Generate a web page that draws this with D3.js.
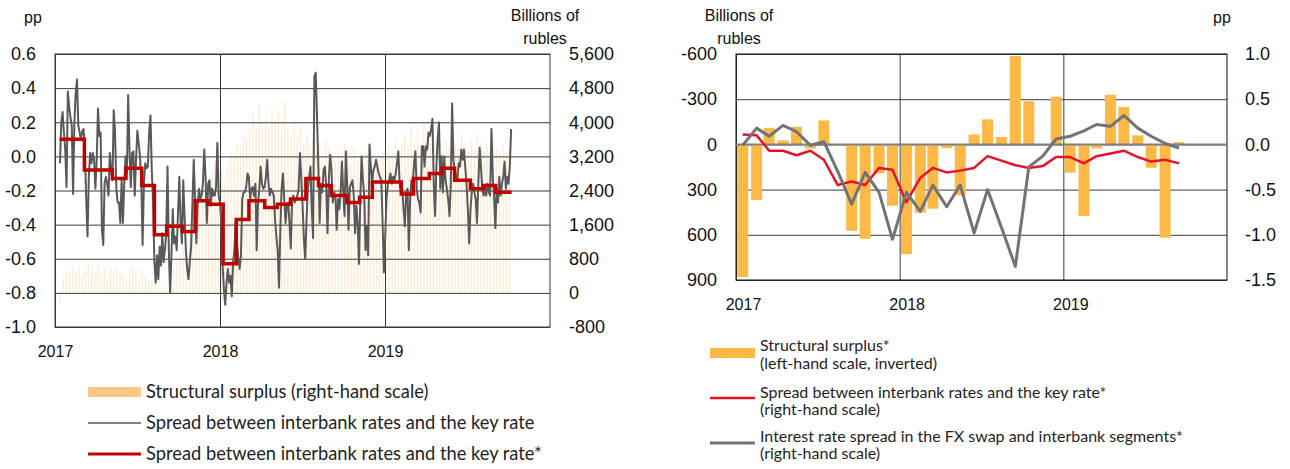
<!DOCTYPE html>
<html>
<head>
<meta charset="utf-8">
<script src="https://cdn.jsdelivr.net/npm/d3@7"></script>
<style>
  body { margin: 0; background: #fff; }
  svg { display: block; }
  .tick text { font-family: "Liberation Sans", Arial, sans-serif; font-size: 18px; fill: #111; }
  .year .tick text { font-size: 16px; }
  .unit { font-family: "Liberation Sans", Arial, sans-serif; font-size: 16px; fill: #111; }
  .legend { font-family: Lato, "Open Sans", sans-serif; fill: #1e1e1e; }
</style>
</head>
<body>
<svg id="chart" width="1290" height="469"></svg>
<script>
// ---- Left chart data ----
// Spread between interbank rates and the key rate, pp (read roughly every 3 days)
const spreadStart = "2017-01-12", spreadEnd = "2019-10-07";
const spreadDaily = [
  -0.04, 0.20, 0.26, 0.14, 0.04, -0.18, 0.38, 0.29, 0.23, 0.18,
  -0.22, 0.20, 0.37, 0.45, 0.18, 0.14, 0.10, 0.15, 0.16, 0.04,
  -0.25, -0.47, -0.12, 0.02, -0.04, 0.02, -0.02, -0.19, -0.02, 0.28,
  0.12, 0.14, -0.43, -0.52, -0.16, -0.12, -0.16, -0.23, 0.02, -0.08,
  -0.14, 0.27, 0.14, -0.19, -0.27, -0.27, -0.39, -0.14, -0.39, -0.16,
  0.00, -0.10, 0.36, 0.04, -0.18, 0.02, 0.03, -0.23, -0.02, 0.15,
  0.08, 0.00, -0.14, -0.52, -0.16, -0.04, -0.07, -0.06, 0.14, 0.24,
  -0.08, -0.27, -0.62, -0.74, -0.58, -0.72, -0.53, -0.64, -0.45, -0.62,
  -0.55, -0.45, -0.06, -0.55, -0.80, -0.58, -0.31, -0.51, -0.47, -0.55,
  -0.33, -0.12, -0.39, -0.51, -0.14, -0.35, -0.55, -0.66, -0.72, -0.62,
  -0.53, -0.27, -0.02, -0.25, -0.51, -0.29, -0.19, -0.25, -0.23, -0.16,
  0.04, -0.12, -0.39, -0.16, -0.14, -0.29, -0.19, -0.23, -0.23, -0.18,
  0.08, -0.23, -0.27, -0.39, -0.64, -0.78, -0.87, -0.74, -0.66, -0.74,
  -0.70, -0.82, -0.62, -0.55, -0.38, -0.51, -0.60, -0.66, -0.58, -0.25,
  -0.21, -0.21, -0.18, -0.10, -0.12, -0.25, -0.19, -0.18, -0.23, -0.16,
  -0.55, -0.27, -0.19, -0.06, -0.16, -0.19, -0.18, -0.12, -0.02, -0.16,
  -0.23, -0.19, -0.21, -0.23, -0.37, -0.47, -0.55, -0.77,
  -0.43, -0.19, -0.10, -0.25, -0.39, -0.29, -0.27, -0.39, -0.54, -0.25,
  -0.23, -0.27, -0.25, -0.23, -0.19, 0.02, -0.12, -0.29, -0.49, -0.60,
  -0.37, -0.19, -0.12, -0.06, -0.31, -0.48, 0.47, 0.49, 0.23, -0.06,
  -0.39, -0.16, -0.21, -0.08, -0.06, -0.18, -0.45, -0.14, 0.01, -0.08,
  -0.27, -0.21, -0.23, -0.43, -0.25, -0.31, -0.21, -0.03, -0.21, -0.35,
  0.03, -0.16, -0.43, -0.18, -0.16, -0.14, -0.23, -0.45, -0.29, -0.39,
  -0.63, -0.25, 0.00, -0.14, -0.23, -0.55, -0.41, -0.58, 0.07, -0.06,
  -0.16, -0.08, -0.06, -0.02, -0.06, -0.10, -0.12, -0.14, -0.39, -0.68,
  -0.47, -0.25, -0.16, -0.14, -0.10, -0.16, -0.12, -0.14, -0.10, -0.04,
  0.03, -0.16, -0.21, -0.19, -0.31, -0.41, -0.21, -0.19, -0.55, -0.25,
  -0.14, -0.16, -0.04, 0.03, -0.19, -0.25, -0.27, -0.33, 0.06, 0.06,
  -0.06, 0.06, 0.04, 0.14, 0.12, 0.16, 0.22, -0.16, -0.35, -0.06,
  0.10, 0.20, -0.19, 0.00, -0.21, 0.00, -0.14, -0.19, -0.25, -0.35,
  -0.16, 0.31, -0.02, -0.08, -0.12, -0.14, -0.04, -0.06, 0.04, -0.02,
  0.04, -0.06, -0.16, -0.31, -0.51, -0.31, -0.21, -0.16, -0.21, -0.25,
  -0.39, -0.16, 0.05, -0.06, -0.19, -0.23, -0.18, -0.23, -0.16, -0.21,
  -0.23, 0.16, -0.12, -0.23, -0.42, -0.19, -0.27, -0.12, -0.23, -0.16,
  -0.12, -0.03, -0.19, -0.12, -0.16, -0.06, 0.16
];

// Spread averaged over reserve maintenance periods (start dates), pp
const periodStarts = [
  "2017-01-11", "2017-03-07", "2017-05-08", "2017-06-07", "2017-07-12", "2017-08-09",
  "2017-09-05", "2017-10-10", "2017-11-07", "2017-12-06", "2018-01-08", "2018-02-06",
  "2018-03-06", "2018-04-10", "2018-05-08", "2018-06-06", "2018-07-10", "2018-08-07",
  "2018-09-04", "2018-10-09", "2018-11-06", "2018-12-04", "2019-02-06", "2019-03-05",
  "2019-04-09", "2019-05-07", "2019-06-04", "2019-07-09", "2019-08-06", "2019-09-03"
];
const periodSpread = [
  0.10, -0.08, -0.13, -0.07, -0.17, -0.46, -0.41, -0.44, -0.26, -0.28, -0.63, -0.37,
  -0.26, -0.30, -0.28, -0.25, -0.13, -0.17, -0.23, -0.27, -0.24, -0.15, -0.22, -0.13,
  -0.10, -0.07, -0.14, -0.19, -0.17, -0.21
];
const periodEnd = "2019-10-08";

// Structural surplus, billions of rubles (weekly readings)
const surplusStart = "2017-01-12";
const surplusWeekly = [
  -250, 350, 550, 450, 600, 500, 650, 400, 550, 700, 600, 450, 650,
  500, 600, 350, 550, 450, 600, 500, 400, 350, 500, 600, 450, 300,
  550, 400, 300, 250, 200, 100, 50, 150, 80, 300, 600, 750, 900,
  1100, 1300, 1500, 1700, 1800, 2000, 2200, 2400, 2600, 2800, 3100, 3500, 2900,
  2600, 3000, 3300, 3200, 3500, 3400, 3700, 3600, 3800, 4200, 3900, 4400, 4000,
  4100, 3900, 4300, 4000, 4200, 3800, 4500, 3900, 3700, 4000, 3600, 3900, 3500,
  3700, 3400, 3600, 3300, 3500, 3200, 3600, 3400, 3300, 3100, 3400, 3200, 3500,
  3300, 3000, 3400, 3100, 3200, 3000, 3300, 3100, 2900, 3200, 3000, 3300, 3100,
  3400, 3200, 3600, 3300, 3500, 3700, 3400, 3900, 3600, 3800, 3500, 4000, 3700,
  3500, 3800, 3400, 3600, 3300, 3600, 3400, 3700, 3500, 3400, 3700, 3500, 3300,
  3600, 3400, 3700, 3500, 3300, 3500, 3300, 3600, 3400, 3300, 3500, 3200, 3400
];

const ppTicksLeft = [-1.0, -0.8, -0.6, -0.4, -0.2, 0.0, 0.2, 0.4, 0.6];
const bnTicksLeft = [-800, 0, 800, 1600, 2400, 3200, 4000, 4800, 5600];

// ---- Right chart data (monthly, Jan 2017 - Sep 2019) ----
const monthStart = "2017-01-01", monthCount = 33;
const surplusMonthly = [
  880, 370, -110, -27, -117, 27, -159, 8, 573, 626, 192, 407,
  728, 453, 427, 25, 338, -66, -166, -49, -586, -287, 0, -316,
  188, 476, 27, -330, -248, -60, 155, 619, -15
];
const spreadMonthly = [
  0.11, 0.10, -0.07, -0.07, -0.12, -0.07, -0.17, -0.45, -0.41, -0.45, -0.26, -0.28,
  -0.64, -0.37, -0.26, -0.31, -0.29, -0.26, -0.13, -0.18, -0.23, -0.26, -0.24, -0.14,
  -0.14, -0.21, -0.13, -0.10, -0.07, -0.14, -0.19, -0.17, -0.21
];
const fxSwapSpread = [
  -0.01, 0.18, 0.09, 0.21, 0.14, -0.01, 0.03, -0.30, -0.66, -0.31, -0.53, -1.05,
  -0.53, -0.74, -0.45, -0.69, -0.45, -0.98, -0.50, -0.92, -1.35, -0.25, -0.13, 0.06,
  0.09, 0.15, 0.22, 0.20, 0.32, 0.18, 0.09, 0.01, -0.04
];
const bnTicksRight = [-600, -300, 0, 300, 600, 900];
const ppTicksRight = [-1.5, -1.0, -0.5, 0.0, 0.5, 1.0];

const years = [2017, 2018, 2019];

// ---- Setup ----
const svg = d3.select("#chart");
const parse = d3.timeParse("%Y-%m-%d");
const xDomain = [new Date(2017, 0, 1), new Date(2020, 0, 1)];
const yearDates = years.map(y => new Date(y, 0, 1));
const dash = s => s.replace("\u2212", "-");
const gridColor = "#3a3a3a";

// ================= LEFT CHART =================
const L = { left: 55, right: 550, top: 54, bottom: 327 };
const xL = d3.scaleTime().domain(xDomain).range([L.left, L.right]);
const yPP = d3.scaleLinear().domain([-1, 0.6]).range([L.bottom, L.top]);
const yBn = d3.scaleLinear().domain([-800, 5600]).range([L.bottom, L.top]);

const gL = svg.append("g");

// Structural surplus, thin faint bars
const s0 = parse(surplusStart);
gL.append("g").selectAll("rect")
  .data(surplusWeekly)
  .join("rect")
  .attr("x", (d, i) => xL(d3.timeDay.offset(s0, i * 7)) - 0.7)
  .attr("width", 1.4)
  .attr("y", d => Math.min(yBn(0), yBn(d)))
  .attr("height", d => Math.abs(yBn(d) - yBn(0)))
  .attr("fill", "#fbd3a0")
  .attr("opacity", 0.45);

// Horizontal grid
gL.append("g")
  .attr("transform", `translate(${L.left},0)`)
  .call(d3.axisLeft(yPP).tickValues(ppTicksLeft).tickSize(-(L.right - L.left)).tickFormat(""))
  .call(g => g.select(".domain").remove())
  .call(g => g.selectAll("line").attr("stroke", gridColor));

// Vertical year lines
gL.append("g")
  .attr("transform", `translate(0,${L.bottom})`)
  .call(d3.axisBottom(xL).tickValues(yearDates).tickSize(-(L.bottom - L.top)).tickFormat(""))
  .call(g => g.select(".domain").remove())
  .call(g => g.selectAll("line").attr("stroke", gridColor));

gL.append("rect")
  .attr("x", L.left).attr("y", L.top)
  .attr("width", L.right - L.left).attr("height", L.bottom - L.top)
  .attr("fill", "none").attr("stroke", gridColor);

// Daily spread
const idxDate = d3.scaleLinear()
  .domain([0, spreadDaily.length - 1])
  .range([parse(spreadStart), parse(spreadEnd)]);
gL.append("path")
  .datum(spreadDaily)
  .attr("fill", "none")
  .attr("stroke", "#595959")
  .attr("stroke-width", 2)
  .attr("stroke-linejoin", "round")
  .attr("d", d3.line().x((d, i) => xL(idxDate(i))).y(d => yPP(d)));

// Period-average spread as steps
const steps = periodStarts.map((s, i) => ({ date: parse(s), v: periodSpread[i] }));
steps.push({ date: parse(periodEnd), v: periodSpread[periodSpread.length - 1] });
gL.append("path")
  .datum(steps)
  .attr("fill", "none")
  .attr("stroke", "#c00000")
  .attr("stroke-width", 3.5)
  .attr("d", d3.line().curve(d3.curveStepAfter).x(d => xL(d.date)).y(d => yPP(d.v)));

// Axes labels
gL.append("g")
  .attr("transform", `translate(${L.left},0)`)
  .call(d3.axisLeft(yPP).tickValues(ppTicksLeft).tickSize(0).tickPadding(19).tickFormat(d => d.toFixed(1)))
  .call(g => g.select(".domain").remove());
gL.append("g")
  .attr("transform", `translate(${L.right},0)`)
  .call(d3.axisRight(yBn).tickValues(bnTicksLeft).tickSize(0).tickPadding(19).tickFormat(d => dash(d3.format(",")(d))))
  .call(g => g.select(".domain").remove());
gL.append("g")
  .attr("class", "year")
  .attr("transform", `translate(0,${L.bottom})`)
  .call(d3.axisBottom(xL).tickValues(yearDates).tickSize(0).tickPadding(19).tickFormat(d3.timeFormat("%Y")))
  .call(g => g.select(".domain").remove());

gL.append("text").attr("class", "unit").attr("x", 33).attr("y", 17).attr("dy", "0.35em")
  .attr("text-anchor", "middle").text("pp");
gL.append("text").attr("class", "unit").attr("x", 545).attr("y", 15).attr("dy", "0.35em")
  .attr("text-anchor", "middle").text("Billions of");
gL.append("text").attr("class", "unit").attr("x", 545).attr("y", 38).attr("dy", "0.35em")
  .attr("text-anchor", "middle").text("rubles");

// Left legend
const legL = svg.append("g").attr("class", "legend").style("font-size", "18.3px");
legL.append("rect").attr("x", 88).attr("y", 387).attr("width", 53).attr("height", 10).attr("fill", "#fdc886");
legL.append("line").attr("x1", 88).attr("x2", 141).attr("y1", 423).attr("y2", 423)
  .attr("stroke", "#595959").attr("stroke-width", 1.5);
legL.append("line").attr("x1", 88).attr("x2", 141).attr("y1", 454).attr("y2", 454)
  .attr("stroke", "#c00000").attr("stroke-width", 3);
[["Structural surplus (right-hand scale)", 392],
 ["Spread between interbank rates and the key rate", 423],
 ["Spread between interbank rates and the key rate*", 454]].forEach(([t, y]) => {
  legL.append("text").attr("x", 146).attr("y", y).attr("dy", "0.35em").text(t);
});

// ================= RIGHT CHART =================
const R = { left: 736, right: 1227, top: 54, bottom: 280 };
const xR = d3.scaleTime().domain(xDomain).range([R.left, R.right]);
const yBnR = d3.scaleLinear().domain([-600, 900]).range([R.top, R.bottom]);   // inverted
const yPPR = d3.scaleLinear().domain([-1.5, 1]).range([R.bottom, R.top]);
const m0 = parse(monthStart);
const months = d3.range(monthCount).map(i => d3.timeMonth.offset(m0, i));
const mid = d => d3.timeDay.offset(d, 15);

const gR = svg.append("g");

gR.append("g")
  .attr("transform", `translate(${R.left},0)`)
  .call(d3.axisLeft(yBnR).tickValues(bnTicksRight).tickSize(-(R.right - R.left)).tickFormat(""))
  .call(g => g.select(".domain").remove())
  .call(g => g.selectAll("line").attr("stroke", gridColor));

gR.append("g")
  .attr("transform", `translate(0,${R.bottom})`)
  .call(d3.axisBottom(xR).tickValues(yearDates).tickSize(-(R.bottom - R.top)).tickFormat(""))
  .call(g => g.select(".domain").remove())
  .call(g => g.selectAll("line").attr("stroke", gridColor));

gR.append("rect")
  .attr("x", R.left).attr("y", R.top)
  .attr("width", R.right - R.left).attr("height", R.bottom - R.top)
  .attr("fill", "none").attr("stroke", "#111");

// Bars
gR.append("g").selectAll("rect")
  .data(surplusMonthly)
  .join("rect")
  .attr("x", (d, i) => xR(mid(months[i])) - 5.5)
  .attr("width", 11)
  .attr("y", d => Math.min(yBnR(0), yBnR(d)))
  .attr("height", d => Math.abs(yBnR(d) - yBnR(0)))
  .attr("fill", "#fdb945");

// Zero line
gR.append("line")
  .attr("x1", R.left).attr("x2", R.right)
  .attr("y1", yBnR(0)).attr("y2", yBnR(0))
  .attr("stroke", "#808080").attr("stroke-width", 2);

const lineR = d3.line().x((d, i) => xR(mid(months[i]))).y(d => yPPR(d));
gR.append("path").datum(spreadMonthly)
  .attr("fill", "none").attr("stroke", "#e8112d").attr("stroke-width", 2.5)
  .attr("stroke-linejoin", "round").attr("d", lineR);
gR.append("path").datum(fxSwapSpread)
  .attr("fill", "none").attr("stroke", "#737373").attr("stroke-width", 3)
  .attr("stroke-linejoin", "round").attr("d", lineR);

gR.append("g")
  .attr("transform", `translate(${R.left},0)`)
  .call(d3.axisLeft(yBnR).tickValues(bnTicksRight).tickSize(0).tickPadding(19).tickFormat(d => String(d)))
  .call(g => g.select(".domain").remove());
gR.append("g")
  .attr("transform", `translate(${R.right},0)`)
  .call(d3.axisRight(yPPR).tickValues(ppTicksRight).tickSize(0).tickPadding(18).tickFormat(d => d.toFixed(1)))
  .call(g => g.select(".domain").remove());
gR.append("g")
  .attr("class", "year")
  .attr("transform", `translate(7,${R.bottom})`)
  .call(d3.axisBottom(xR).tickValues(yearDates).tickSize(0).tickPadding(19).tickFormat(d3.timeFormat("%Y")))
  .call(g => g.select(".domain").remove());

gR.append("text").attr("class", "unit").attr("x", 739).attr("y", 15).attr("dy", "0.35em")
  .attr("text-anchor", "middle").text("Billions of");
gR.append("text").attr("class", "unit").attr("x", 739).attr("y", 38).attr("dy", "0.35em")
  .attr("text-anchor", "middle").text("rubles");
gR.append("text").attr("class", "unit").attr("x", 1222).attr("y", 17).attr("dy", "0.35em")
  .attr("text-anchor", "middle").text("pp");

// Right legend
const legR = svg.append("g").attr("class", "legend").style("font-size", "16px");
legR.append("rect").attr("x", 710).attr("y", 348).attr("width", 45).attr("height", 10).attr("fill", "#fdb945");
legR.append("line").attr("x1", 710).attr("x2", 755).attr("y1", 398).attr("y2", 398)
  .attr("stroke", "#e8112d").attr("stroke-width", 2.5);
legR.append("line").attr("x1", 710).attr("x2", 755).attr("y1", 443).attr("y2", 443)
  .attr("stroke", "#737373").attr("stroke-width", 3);
[["Structural surplus*", 345], ["(left-hand scale, inverted)", 363],
 ["Spread between interbank rates and the key rate*", 392], ["(right-hand scale)", 409],
 ["Interest rate spread in the FX swap and interbank segments*", 436], ["(right-hand scale)", 453]]
  .forEach(([t, y]) => {
    legR.append("text").attr("x", 760).attr("y", y).attr("dy", "0.35em").text(t);
  });
</script>
</body>
</html>
